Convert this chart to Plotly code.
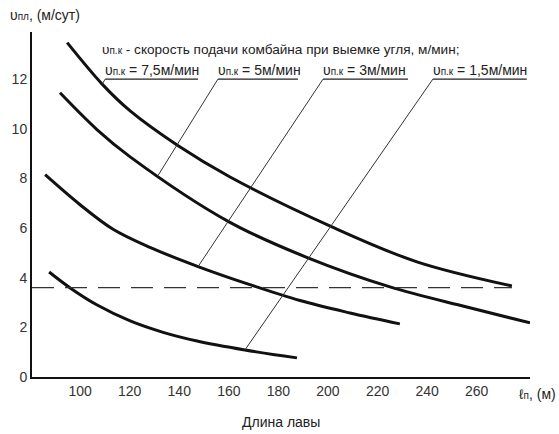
import numpy as np
import plotly.graph_objects as go

# Длина лавы (м) и скорость подвигания лавы (м/сут) для каждой скорости подачи комбайна
length_75 = [94.8, 108.9, 120.2, 139.1, 160.5, 201.6, 235.9, 274.2]
speed_75 = [13.47, 11.8, 10.72, 9.35, 8.06, 6.05, 4.64, 3.67]

length_5 = [91.9, 106.9, 120.2, 160.1, 191.9, 225.0, 256.0, 281.5]
speed_5 = [11.45, 9.96, 8.87, 6.25, 4.80, 3.63, 2.82, 2.18]

length_3 = [85.9, 100.0, 113.3, 128.2, 147.6, 168.5, 188.7, 208.9, 229.0]
speed_3 = [8.15, 6.94, 5.95, 5.22, 4.45, 3.72, 3.08, 2.58, 2.14]

length_15 = [87.5, 96.0, 106.9, 120.2, 133.5, 147.2, 166.5, 187.5]
speed_15 = [4.23, 3.59, 2.90, 2.26, 1.80, 1.45, 1.09, 0.77]

# Нормативная скорость подвигания (горизонтальная штриховая линия)
norm_speed = 3.6
norm_x = [80.6, 274.2]

x_ticks = [100, 120, 140, 160, 180, 200, 220, 240, 260]
y_ticks = [0, 2, 4, 6, 8, 10, 12]

feed_labels = ["7,5м/мин", "5м/мин", "3м/мин", "1,5м/мин"]
# начало и конец подчёркивания подписи, и точка привязки выноски на кривой (по длине лавы)
label_spans = [(110.1, 147.6), (155.6, 187.9), (198.0, 232.3), (242.3, 280.2)]
leader_x = [108.9, 131.5, 147.6, 166.5]
label_y = 12.0

X_RANGE = [80.6, 281.5]
Y_RANGE = [0, 13.9]

FONT = "Liberation Sans Narrow, Liberation Sans, Arial, sans-serif"
SMALL = "<span style='font-size:10px'>{}</span>"

curves = [(length_75, speed_75), (length_5, speed_5), (length_3, speed_3), (length_15, speed_15)]

fig = go.Figure()

for xs, ys in curves:
    fig.add_trace(go.Scatter(
        x=xs, y=ys, mode="lines",
        line=dict(color="#111111", width=3, shape="spline", smoothing=1.0),
        showlegend=False, hoverinfo="skip", cliponaxis=False,
    ))

fig.add_trace(go.Scatter(
    x=norm_x, y=[norm_speed, norm_speed], mode="lines",
    line=dict(color="#333333", width=1.3, dash="22px,11px"),
    showlegend=False, hoverinfo="skip",
))

shapes = []
annotations = []

for (xs, ys), lbl, (u0, u1), lx in zip(curves, feed_labels, label_spans, leader_x):
    ly = float(np.interp(lx, xs, ys))
    # подчёркивание подписи
    shapes.append(dict(type="line", xref="x", yref="y", x0=u0, x1=u1, y0=label_y, y1=label_y,
                       line=dict(color="#222222", width=1.3)))
    # выноска к кривой
    shapes.append(dict(type="line", xref="x", yref="y", x0=u0, x1=lx, y0=label_y, y1=ly,
                       line=dict(color="#333333", width=1)))
    annotations.append(dict(
        x=u0, y=label_y, xref="x", yref="y", xanchor="left", yanchor="bottom",
        text="υ" + SMALL.format("п.к") + " = " + lbl, showarrow=False,
        font=dict(family=FONT, size=14, color="#222222"), xshift=-2, yshift=-1,
    ))

annotations.append(dict(
    x=0.137, y=0.948, xref="paper", yref="paper", xanchor="left", yanchor="middle",
    text="υ" + SMALL.format("п.к") + " - скорость подачи комбайна при выемке угля, м/мин;",
    showarrow=False, font=dict(family=FONT, size=13.6, color="#222222"),
))

# подпись оси ординат
annotations.append(dict(
    x=0.026, y=1.049, xref="paper", yref="paper", xanchor="center", yanchor="middle",
    text="υ" + SMALL.format("пл") + ", (м/сут)", showarrow=False,
    font=dict(family=FONT, size=14, color="#222222"),
))
# подпись оси абсцисс
annotations.append(dict(
    x=1.056, y=-0.049, xref="paper", yref="paper", xanchor="right", yanchor="middle",
    text="ℓ" + SMALL.format("п") + ", (м)", showarrow=False,
    font=dict(family=FONT, size=14, color="#222222"),
))
annotations.append(dict(
    x=0.5, y=-0.13, xref="paper", yref="paper", xanchor="center", yanchor="middle",
    text="Длина лавы", showarrow=False,
    font=dict(family=FONT, size=14, color="#222222"),
))

fig.update_layout(
    width=559, height=434,
    margin=dict(l=32, r=29, t=32, b=57),
    paper_bgcolor="white", plot_bgcolor="white",
    shapes=shapes, annotations=annotations,
    font=dict(family=FONT, size=13, color="#333333"),
    xaxis=dict(range=X_RANGE, tickvals=x_ticks, showgrid=False, zeroline=False,
               showline=True, linecolor="#111111", linewidth=2, ticks="",
               tickfont=dict(size=14, color="#333333"), fixedrange=True),
    yaxis=dict(range=Y_RANGE, tickvals=y_ticks, showgrid=False, zeroline=False,
               showline=True, linecolor="#111111", linewidth=2, ticks="",
               tickfont=dict(size=14, color="#333333"), fixedrange=True),
)

fig.write_html("out.html")
